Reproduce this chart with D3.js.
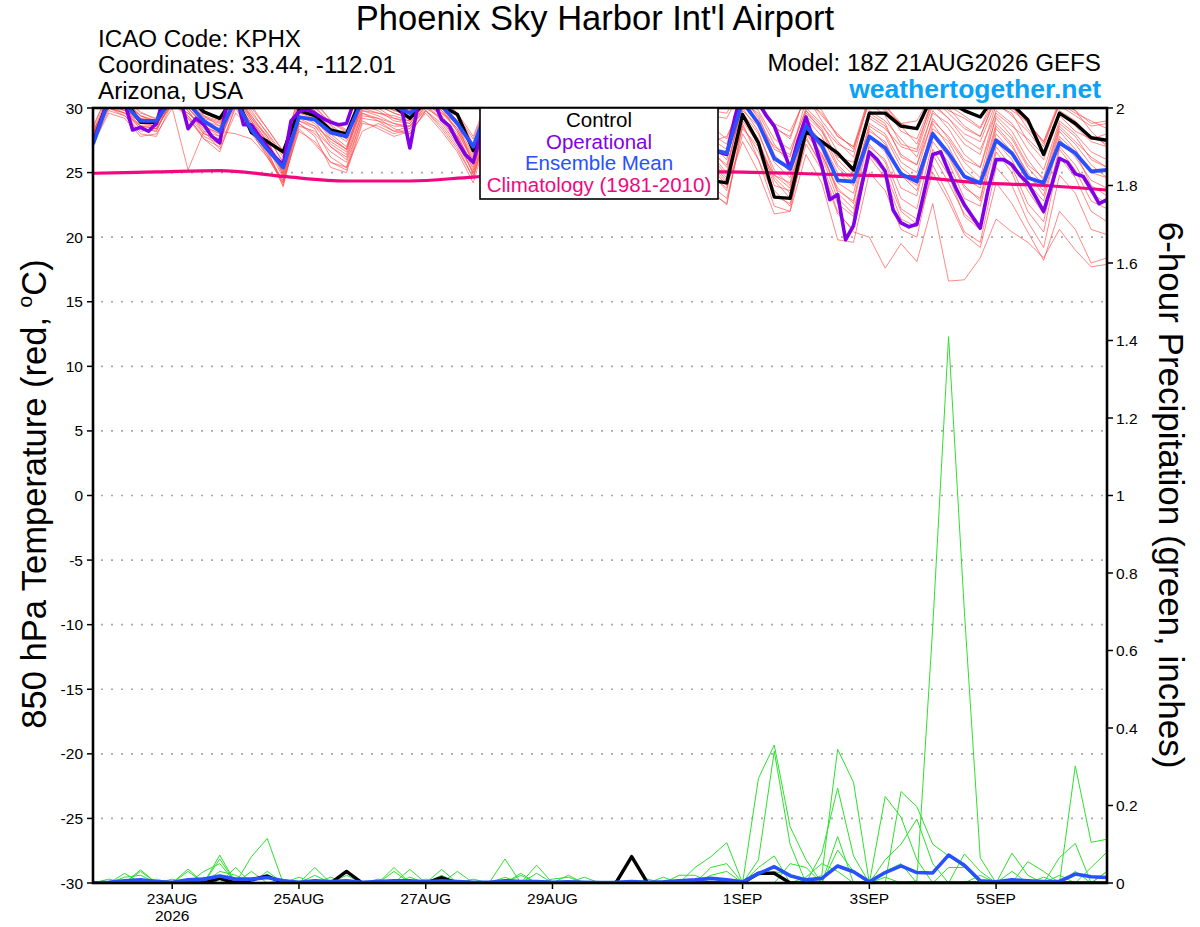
<!DOCTYPE html>
<html>
<head>
<meta charset="utf-8">
<script src="https://cdn.jsdelivr.net/npm/d3@7"></script>
<style>
  html, body { margin: 0; padding: 0; background: #fff; }
  svg { display: block; font-family: "Liberation Sans", Arial, Helvetica, sans-serif; }
</style>
</head>
<body>
<svg id="chart" width="1200" height="927"></svg>
<script>
// model run: 18Z 21AUG2026, 384h forecast
const runStart = Date.UTC(2026, 7, 21, 18);
const runEnd = Date.UTC(2026, 8, 6, 18);

const dateTicks = [Date.UTC(2026,7,23), Date.UTC(2026,7,25), Date.UTC(2026,7,27), Date.UTC(2026,7,29),
                   Date.UTC(2026,8,1), Date.UTC(2026,8,3), Date.UTC(2026,8,5)];
const dateLabels = ["23AUG", "25AUG", "27AUG", "29AUG", "1SEP", "3SEP", "5SEP"];
const tempTicks = [30, 25, 20, 15, 10, 5, 0, -5, -10, -15, -20, -25, -30];
const precipTicks = [2, 1.8, 1.6, 1.4, 1.2, 1, 0.8, 0.6, 0.4, 0.2, 0];
const legendNames = ["Control", "Operational", "Ensemble Mean", "Climatology (1981-2010)"];

// 850 hPa temperature, 6-hourly
const controlTemp = [27.3, 30.8,30.6,28.9,28.9, 31.2,30.8,29.7,29.2, 31.0,28.1,27.4,26.6, 29.8,29.4,28.3,28.0,
  31.0,30.8,30.1,29.2, 30.5,30.2,29.5,26.7, 29.6,30.2,28.8,27.2, 30.8,30.0,28.6,27.0, 30.6,29.6,28.0,26.4,
  29.4,27.8,24.4,24.2, 29.5,27.3,23.1,23.0, 28.2,27.4,26.5,25.2, 29.6,29.6,28.6,28.4, 31.0,30.5,29.8,29.3,
  31.0,30.3,29.1,26.4, 29.6,28.8,27.7,27.5];
const meanTemp = [27.2, 30.6,30.3,29.0,29.0, 30.8,30.4,29.0,28.2, 30.6,28.3,26.8,25.4, 29.3,29.1,28.1,27.8,
  30.6,30.4,30.2,29.6, 30.6,30.2,28.8,27.0, 30.4,30.0,28.6,26.8, 30.6,29.8,28.2,26.6, 30.4,29.4,27.8,26.2,
  30.0,28.6,26.8,26.5, 30.5,28.8,26.1,25.3, 28.6,27.1,24.4,24.3, 27.8,26.9,24.9,24.3, 28.0,26.5,24.7,24.2,
  27.5,26.5,24.6,24.2, 27.3,26.5,25.1,25.2];
// operational run comes 3-hourly
const operTemp = [27.3, 29.0,30.8,31.0,30.4, 28.3,28.5,28.2,28.8, 31.0,31.5,30.8,28.4, 29.2,28.7,27.8,27.3,
  30.8,31.2,28.7,28.7, 27.8,27.0,26.2,25.6, 29.0,29.7,29.9,29.6, 29.2,28.9,28.7,28.8,
  30.6,31.2,31.0,30.8, 30.6,30.4,29.8,26.9, 30.2,31.0,30.6,29.1, 28.6,27.4,26.4,25.8,
  28.0,29.6,30.2,29.8, 29.0,28.2,27.2,26.4, 29.4,30.6,30.2,29.4, 28.6,27.6,26.8,25.8,
  29.0,30.4,30.0,29.2, 28.4,27.4,26.4,25.6, 28.8,30.2,29.8,29.0, 27.8,26.8,26.6,26.4,
  29.2,31.5,31.2,30.4, 29.4,28.6,27.0,25.3, 27.5,29.3,27.4,25.5, 22.9,23.3,19.8,20.9,
  23.9,26.6,26.0,25.1, 22.1,21.1,20.8,21.0, 23.7,26.4,26.6,25.1, 23.7,22.5,21.6,20.7,
  23.7,26.0,26.0,25.6, 24.8,24.2,23.1,22.0, 24.0,26.1,25.8,24.9, 24.7,23.7,22.6,22.9];
// climatology, one value per day from run start
const climTemp = [24.95, 25.05, 25.15, 24.7, 24.35, 24.35, 24.65, 24.9, 25.0, 25.05, 25.05, 24.95, 24.8, 24.65, 24.2, 24.0, 23.65];

const memberTemp = [
  [27.9, 31.0,30.4,29.2,29.0, 31.6,30.6,29.3,28.9, 31.4,29.6,28.1,26.4, 30.6,30.0,28.9,28.1, 31.2,30.8,30.2,29.8, 31.4,30.2,29.4,27.6, 30.8,30.6,29.6,28.2, 31.2,30.8,29.4,28.0, 31.4,30.6,29.2,27.6, 30.8,29.6,28.0,27.2, 31.2,30.4,28.8,28.2, 30.8,29.4,28.0,26.8, 30.6,29.8,28.8,28.4, 31.0,30.0,28.6,27.8, 30.8,29.8,28.9,27.4, 30.2,29.4,28.6,28.8],
  [28.4, 31.4,30.8,29.6,29.2, 31.8,30.9,29.6,29.1, 31.8,30.0,28.4,26.7, 31.0,30.4,29.1,28.3, 30.6,30.2,29.6,29.2, 31.0,30.4,29.0,26.8, 30.2,30.8,29.0,27.8, 31.0,30.2,28.6,27.6, 30.8,30.0,28.8,27.2, 30.4,29.8,29.4,29.2, 31.6,30.2,28.4,27.8, 31.0,29.0,27.4,26.2, 30.8,30.0,28.2,27.6, 30.6,30.2,29.4,28.5, 31.2,30.2,28.4,27.0, 30.4,29.6,29.0,28.4],
  [27.6, 30.6,30.0,28.8,28.6, 31.0,30.2,28.8,28.4, 31.0,29.2,27.8,25.8, 30.2,29.8,28.4,27.6, 31.0,30.6,29.8,29.4, 31.2,30.6,29.6,27.2, 30.4,29.8,28.4,26.6, 30.6,30.0,29.0,27.8, 31.0,30.2,28.6,27.0, 31.0,30.0,27.2,26.0, 30.8,29.8,27.6,26.8, 29.8,28.6,27.2,26.6, 31.0,30.2,28.6,27.2, 30.4,29.2,28.0,27.4, 30.4,29.4,28.2,26.6, 29.8,29.0,27.8,27.2],
  [28.1, 30.2,29.6,28.4,28.2, 30.8,29.8,28.2,27.8, 30.6,28.8,27.2,25.2, 29.6,29.4,28.0,27.0, 30.4,30.0,29.2,28.8, 30.6,29.8,28.4,26.0, 29.8,30.2,28.8,27.4, 31.2,30.4,28.8,27.2, 30.4,29.8,28.0,26.4, 29.6,28.8,27.4,27.8, 30.4,29.6,27.2,25.6, 29.4,28.2,26.2,25.8, 29.8,29.0,27.6,26.2, 29.6,28.8,27.2,26.4, 30.2,29.6,27.4,26.0, 29.4,28.2,27.6,28.0],
  [27.4, 30.8,30.6,29.4,28.8, 31.2,30.4,29.0,28.6, 30.8,29.4,27.6,24.8, 30.8,30.2,28.7,27.8, 30.8,30.4,30.0,29.6, 30.8,29.6,28.8,25.6, 29.6,29.4,28.2,26.2, 30.4,29.8,28.2,26.6, 30.6,30.4,29.4,27.8, 31.2,30.4,28.6,27.6, 31.0,29.2,26.8,26.2, 30.6,29.6,27.8,27.0, 30.4,29.4,27.2,26.8, 30.8,29.6,28.4,27.8, 31.0,30.4,28.8,27.4, 30.6,29.8,28.2,27.0],
  [28.6, 31.2,30.8,29.7,29.1, 31.4,31.0,29.4,29.0, 32.0,30.2,28.4,26.6, 31.0,30.6,29.0,28.2, 31.0,30.8,30.4,30.2, 31.6,30.8,29.6,27.8, 31.0,30.6,29.4,28.4, 31.4,31.0,29.8,28.4, 31.2,31.0,29.4,28.0, 31.0,30.2,29.8,29.6, 31.8,30.6,28.6,27.6, 31.2,29.8,27.8,27.0, 31.0,30.2,28.8,29.0, 31.2,29.8,29.2,28.4, 30.8,30.0,29.0,27.2, 30.4,29.8,28.8,29.0],
  [27.8, 30.4,29.8,28.6,28.4, 30.6,29.4,28.0,27.6, 30.2,28.6,27.0,24.6, 29.4,28.8,27.4,26.6, 30.2,29.8,29.0,28.8, 30.4,29.4,28.0,25.2, 29.4,29.8,28.0,26.0, 30.2,29.6,27.8,25.8, 30.0,29.2,27.4,25.6, 29.8,28.6,26.8,25.4, 30.2,28.8,25.8,24.6, 29.2,27.8,25.4,24.2, 28.8,28.0,25.8,25.0, 29.2,27.6,25.8,24.6, 29.4,28.2,26.0,24.4, 28.6,27.4,26.2,25.4],
  [27.3, 29.8,29.4,28.2,28.4, 30.4,29.2,27.8,27.2, 31.0,29.0,27.4,25.0, 28.6,28.2,27.0,26.2, 29.6,29.0,28.6,28.6, 30.2,29.0,27.4,25.4, 29.2,29.0,27.6,25.8, 29.8,29.2,27.4,25.4, 29.6,29.0,27.2,25.2, 29.4,28.2,25.6,24.2, 29.6,28.0,25.2,24.0, 28.6,27.0,24.2,23.4, 28.2,27.4,24.8,24.0, 28.8,27.0,24.6,23.8, 28.6,27.2,24.8,23.6, 28.2,26.8,25.0,24.6],
  [28.0, 30.0,29.6,29.0,28.8, 30.2,29.6,28.6,28.0, 30.4,28.2,26.6,24.2, 29.8,29.6,28.2,27.4, 29.8,29.4,28.8,28.4, 30.0,29.2,27.8,24.8, 28.6,28.8,27.2,25.4, 29.6,28.8,27.0,25.0, 29.4,28.4,26.4,24.8, 28.6,27.6,25.0,23.6, 29.0,27.2,24.4,23.0, 28.4,26.4,23.8,22.6, 27.8,26.6,23.8,23.2, 28.2,26.4,24.0,22.8, 28.0,26.6,24.2,22.8, 27.6,26.2,24.4,23.8],
  [27.5, 30.6,30.2,28.9,28.6, 31.0,29.2,27.6,27.0, 30.0,28.0,26.4,24.0, 29.2,28.6,27.6,26.8, 30.0,29.6,29.4,29.0, 30.6,29.8,28.2,25.8, 30.0,29.6,28.6,26.8, 30.4,29.4,27.6,26.0, 29.8,29.4,27.8,26.2, 30.4,29.0,26.4,25.0, 30.6,29.4,26.4,25.0, 29.6,28.4,26.0,24.8, 29.4,28.6,26.4,25.6, 29.8,28.4,26.4,25.4, 29.8,28.8,26.8,25.2, 29.0,28.0,26.6,26.0],
  [27.2, 29.6,29.2,27.8,28.0, 30.0,25.2,28.2,26.8, 29.6,28.4,26.8,25.4, 28.8,28.0,26.6,25.8, 29.2,29.0,28.2,28.0, 29.8,28.6,27.0,24.6, 28.8,28.6,27.4,25.6, 29.4,28.6,26.8,25.2, 29.2,28.8,26.8,25.0, 29.0,27.8,24.8,23.8, 29.4,27.6,24.0,23.6, 28.0,26.4,23.6,22.8, 28.4,27.2,24.8,23.6, 27.8,26.2,23.8,23.0, 28.4,27.0,25.0,23.2, 27.8,26.6,24.0,23.2],
  [28.2, 30.2,29.8,29.2,28.8, 30.6,30.0,28.8,28.2, 28.0,27.6,26.2,24.4, 28.2,27.4,25.8,25.2, 29.0,28.4,27.8,28.2, 29.6,28.2,26.6,24.2, 28.4,28.2,26.8,25.0, 29.0,28.4,26.4,24.8, 28.8,28.2,26.2,24.6, 28.4,27.2,23.6,22.5, 28.6,26.6,23.6,22.4, 27.6,25.6,22.6,21.6, 27.0,26.0,23.0,22.2, 27.4,25.8,23.0,22.4, 27.4,26.0,23.6,21.8, 27.0,25.6,23.4,22.6],
  [28.3, 30.4,30.4,29.4,29.0, 31.2,30.2,29.2,28.8, 31.2,29.4,27.8,25.8, 30.0,29.2,27.8,26.8, 30.4,30.2,29.6,29.2, 31.0,30.0,28.6,26.4, 29.6,29.4,27.8,25.6, 29.8,29.2,27.2,25.6, 30.2,29.6,28.2,26.6, 30.0,29.0,26.2,24.8, 29.8,28.6,27.0,26.4, 30.0,28.8,26.6,25.4, 29.2,28.4,27.0,26.6, 30.2,29.2,27.6,26.8, 29.6,28.6,27.6,26.4, 29.6,28.6,27.4,27.0],
  [27.7, 30.0,29.4,28.0,27.8, 30.4,29.6,28.4,27.4, 30.6,28.8,27.2,24.8, 29.0,28.4,26.2,25.4, 29.4,29.2,28.4,28.0, 29.8,28.8,27.2,25.0, 29.0,29.2,27.8,26.4, 30.0,29.4,28.0,26.4, 29.6,29.0,27.0,25.4, 29.2,28.4,26.0,24.6, 28.4,27.0,24.8,24.2, 28.8,27.4,25.0,24.0, 28.6,27.8,25.4,24.4, 28.4,27.4,25.2,24.2, 28.8,27.6,25.4,24.0, 28.4,27.2,25.6,24.6],
  [27.6, 30.2,29.8,28.4,28.2, 30.8,29.8,28.0,27.6, 30.8,28.6,26.8,23.9, 28.8,27.8,25.4,25.0, 28.8,28.6,28.0,28.4, 30.2,29.2,27.4,25.0, 28.8,28.4,26.8,24.8, 29.2,28.6,26.6,24.6, 29.0,28.4,26.0,24.4, 28.8,27.4,24.0,23.0, 28.0,26.0,23.2,22.6, 27.2,25.2,21.8,20.6, 26.4,25.0,22.0,21.0, 26.8,24.8,21.6,20.6, 26.6,25.0,22.0,20.4, 26.2,24.6,22.0,21.2],
  [27.9, 30.6,30.0,28.6,28.4, 30.4,29.4,27.6,26.6, 30.2,28.2,26.2,24.2, 28.4,27.2,25.8,25.4, 28.2,28.8,28.2,28.6, 29.8,28.4,26.8,24.6, 28.6,28.8,27.2,25.2, 29.4,28.8,27.0,25.0, 29.4,28.6,26.6,25.0, 29.4,28.0,25.4,24.0, 27.4,25.0,21.8,22.0, 26.4,24.2,19.8,19.6, 25.0,23.6,20.6,20.0, 25.6,23.2,20.4,19.6, 25.4,24.0,21.2,19.2, 24.8,23.4,20.6,20.2],
  [27.5, 30.0,29.6,28.6,28.6, 30.8,30.0,28.6,28.0, 30.4,28.4,26.4,24.4, 29.0,28.6,27.0,26.0, 29.6,29.2,28.8,28.6, 30.4,29.4,27.8,25.6, 29.2,29.0,27.4,25.4, 29.8,29.0,27.2,25.8, 29.8,29.2,27.4,25.8, 29.6,28.2,25.8,24.4, 29.2,27.4,24.6,23.4, 27.8,25.4,22.0,20.4, 20.0,17.6,19.5,18.1, 22.6,16.6,16.7,18.4, 21.4,20.4,19.6,18.4, 20.6,19.0,17.7,17.9],
  [28.0, 30.8,30.2,29.0,28.8, 31.0,30.6,29.0,28.4, 31.2,29.2,27.4,25.4, 29.6,29.2,27.6,26.8, 30.6,30.4,29.8,29.6, 31.2,30.0,28.2,25.8, 30.0,29.6,28.0,26.0, 30.2,29.8,28.0,26.2, 30.4,29.8,27.8,26.0, 30.2,29.4,26.6,25.6, 30.0,28.2,24.8,23.8, 28.4,26.8,23.4,22.2, 26.2,24.6,21.4,20.8, 25.0,22.8,20.2,19.2, 24.2,22.6,20.4,18.2, 22.0,20.6,18.0,18.4],
  [27.7, 30.4,30.0,29.0,28.8, 30.6,30.0,28.6,27.8, 30.8,29.0,27.2,25.0, 29.4,29.0,27.2,26.4, 29.8,29.6,29.2,29.0, 30.8,29.6,28.4,26.2, 29.4,29.2,27.6,25.8, 29.6,29.0,27.4,25.6, 30.0,29.6,27.6,25.8, 29.6,28.8,23.4,22.6, 28.8,26.0,22.4,22.0, 28.2,26.2,23.0,21.8, 27.2,25.8,22.2,21.4, 26.4,24.2,21.8,20.8, 27.0,25.4,22.6,21.2, 26.8,25.2,22.8,22.2],
  [28.1, 31.2,30.6,29.4,29.0, 31.4,30.8,29.4,28.6, 31.6,29.8,28.0,26.2, 30.2,29.8,28.6,27.6, 30.8,30.6,30.2,29.8, 31.4,30.4,29.0,26.6, 30.6,30.0,28.6,27.0, 30.8,30.2,28.4,27.0, 30.8,30.0,28.2,26.8, 30.6,29.6,27.6,26.8, 30.4,29.0,26.2,25.2, 29.8,28.2,25.6,24.4, 29.6,28.8,26.2,25.6, 29.0,27.8,26.0,25.4, 29.2,27.8,25.6,24.6, 28.8,27.8,26.0,25.4]
];

// 6-hour precipitation (inches)
const controlPrecip = [0,0,0,0,0,0,0,0,0.012,0, 0.008,0.018,0,0,0,0,0.03,0,0,0, 0,0,0.014,0,0,0,0,0,0,0,
  0,0,0,0,0.068,0,0,0,0,0, 0,0,0.025,0.025,0,0,0,0,0,0, 0,0,0,0,0,0,0,0,0,0, 0,0,0,0,0];
const meanPrecip = [0,0.002,0.006,0.008,0.004,0.002,0.008,0.01,0.018,0.01, 0.01,0.014,0.006,0.002,0.006,0.004,0.006,0.002,0.004,0.006,
  0.006,0.003,0.006,0.004,0.002,0.002,0.006,0.004,0.004,0.002, 0.003,0.002,0.001,0.002,0.004,0.002,0.003,0.006,0.008,0.012,
  0.008,0.003,0.024,0.042,0.019,0.008,0.012,0.044,0.029,0.003, 0.027,0.044,0.027,0.026,0.072,0.046,0.006,0.003,0.008,0.006,
  0.004,0.004,0.023,0.016,0.014];
const memberPrecip = [
  [0,0,0,0.034,0,0,0,0,0.072,0, 0,0,0,0,0,0,0,0,0,0.04, 0,0,0,0,0,0,0,0,0,0, 0,0,0,0,0,0,0,0,0,0, 0,0,0.27,0.356,0.145,0.06,0,0,0,0, 0,0,0,0,0,0,0,0,0,0, 0,0,0.302,0.105,0.113],
  [0,0,0.025,0,0,0,0,0,0.062,0, 0.068,0.115,0,0,0,0,0,0,0,0, 0,0,0,0,0,0,0,0,0.046,0, 0,0,0,0,0,0,0,0,0,0, 0,0,0,0,0,0,0.02,0.345,0.26,0, 0,0,0,0,0,0,0,0,0,0, 0,0,0,0.04,0.08],
  [0,0,0,0,0,0,0.036,0,0,0, 0.03,0,0,0,0,0,0,0,0,0, 0,0,0,0,0,0,0.062,0,0,0, 0,0,0,0,0,0,0,0,0,0, 0,0,0.06,0.34,0.1,0,0,0,0,0, 0,0,0.005,0.66,1.41,0.7,0.065,0,0,0, 0,0,0,0,0],
  [0,0,0,0.03,0,0,0,0,0,0.04, 0,0,0,0,0.04,0,0,0,0,0, 0,0,0.035,0,0,0,0,0,0,0, 0,0,0,0,0,0,0,0,0.04,0.068, 0.104,0,0,0,0,0,0.077,0.245,0.07,0, 0,0,0,0,0,0,0,0,0,0, 0,0.066,0.102,0,0],
  [0,0,0,0,0,0,0,0.03,0.05,0, 0,0,0,0,0,0,0,0,0,0, 0.035,0,0,0,0,0,0,0,0,0, 0,0,0,0,0,0,0,0,0,0, 0,0,0,0,0,0,0,0,0,0, 0.223,0.17,0.06,0,0,0,0,0,0.077,0.02, 0,0,0,0,0],
  [0,0,0,0,0,0,0.03,0,0,0, 0,0.03,0,0,0,0,0,0,0,0.03, 0,0,0,0,0,0,0,0.025,0,0, 0,0,0,0,0,0,0,0,0,0, 0,0,0,0,0,0,0,0,0,0, 0,0.236,0.197,0.1,0.07,0.04,0,0,0,0, 0,0,0,0,0.03],
  [0,0,0.015,0.02,0,0,0,0,0,0, 0,0,0,0,0.02,0,0,0,0,0, 0,0,0,0,0,0,0,0,0.025,0, 0,0,0,0,0,0,0,0,0,0, 0,0,0,0,0.05,0.04,0,0.12,0,0, 0.06,0.1,0.165,0.05,0,0,0,0,0,0.055, 0.03,0,0,0,0],
  [0,0,0,0,0,0,0,0,0.03,0.02, 0,0,0,0,0,0,0,0,0,0, 0,0,0,0.03,0,0,0,0,0,0, 0.02,0,0,0,0,0,0,0,0,0.04, 0.05,0,0.04,0.07,0,0,0,0,0,0, 0,0,0,0,0,0.075,0.03,0,0,0, 0,0.02,0,0,0],
  [0,0.01,0,0,0,0,0,0.015,0,0, 0,0,0,0,0,0,0.02,0,0,0, 0,0,0.02,0,0,0,0,0,0,0, 0,0,0,0,0,0,0,0.02,0.02,0, 0,0,0,0,0,0,0,0.085,0.03,0, 0,0,0,0,0.04,0.04,0,0,0,0, 0,0,0.03,0,0],
  [0,0,0,0,0.01,0,0,0,0,0, 0,0,0.01,0,0,0,0,0,0,0, 0.015,0,0,0,0,0,0.015,0,0,0, 0,0,0,0,0,0,0,0,0,0.02, 0.03,0,0.02,0.03,0.02,0,0,0,0,0, 0.03,0.05,0,0,0,0,0,0,0.03,0, 0,0,0,0,0],
  [0,0,0,0,0,0.01,0,0,0,0, 0,0,0,0.015,0,0,0,0,0,0, 0,0.01,0,0,0,0,0,0.02,0,0, 0,0.015,0,0,0,0,0.015,0,0,0, 0,0,0,0,0,0.015,0.05,0.03,0,0, 0.015,0,0,0,0,0,0.02,0,0,0, 0.015,0,0,0,0.03],
  [0,0,0,0,0,0,0,0,0,0.01, 0,0,0,0,0,0.015,0,0,0.01,0, 0,0,0,0,0.01,0,0,0,0,0.01, 0.015,0,0,0.005,0,0.01,0,0,0,0, 0,0,0,0,0,0,0,0,0,0, 0,0,0,0,0,0,0,0,0,0, 0,0,0,0,0]
];

const plot = { left: 93, right: 1107, top: 108, bottom: 883 };
const HOUR = 3600e3;
const colors = { member: "#ff4a4a", green: "#2ee02e", control: "#000000", oper: "#8200e6", mean: "#2850ff", clim: "#f2077f" };

const svg = d3.select("#chart");

const x = d3.scaleUtc()
    .domain([new Date(runStart), new Date(runEnd)])
    .range([plot.left, plot.right]);
const yT = d3.scaleLinear().domain([-30, 30]).range([plot.bottom, plot.top]);
const yP = d3.scaleLinear().domain([0, 2]).range([plot.bottom, plot.top]);

function stepLine(yscale, hours) {
    return d3.line()
        .x((d, i) => x(new Date(runStart + i * hours * HOUR)))
        .y(d => yscale(d));
}

svg.append("defs").append("clipPath").attr("id", "plot-clip")
    .append("rect")
    .attr("x", plot.left).attr("y", plot.top)
    .attr("width", plot.right - plot.left).attr("height", plot.bottom - plot.top);

// dotted grid
svg.append("g")
    .selectAll("line")
    .data(tempTicks.filter(t => t > -30 && t < 30))
    .join("line")
    .attr("x1", plot.left + 8).attr("x2", plot.right)
    .attr("y1", d => yT(d)).attr("y2", d => yT(d))
    .attr("stroke", "#a8a8a8")
    .attr("stroke-width", 1.6)
    .attr("stroke-dasharray", "2,8");

const lines = svg.append("g").attr("clip-path", "url(#plot-clip)");

lines.append("g")
    .attr("fill", "none")
    .attr("stroke", colors.member)
    .attr("stroke-opacity", 0.65)
    .attr("stroke-width", 1)
    .selectAll("path")
    .data(memberTemp)
    .join("path")
    .attr("d", stepLine(yT, 6));

lines.append("g")
    .attr("fill", "none")
    .attr("stroke", colors.green)
    .attr("stroke-width", 1)
    .selectAll("path")
    .data(memberPrecip)
    .join("path")
    .attr("d", stepLine(yP, 6));

lines.append("path")
    .datum(climTemp)
    .attr("fill", "none")
    .attr("stroke", colors.clim)
    .attr("stroke-width", 3.2)
    .attr("d", stepLine(yT, 24).curve(d3.curveMonotoneX));

lines.append("path").datum(controlPrecip)
    .attr("fill", "none").attr("stroke", colors.control).attr("stroke-width", 3.4)
    .attr("stroke-linejoin", "round")
    .attr("d", stepLine(yP, 6));
lines.append("path").datum(meanPrecip)
    .attr("fill", "none").attr("stroke", colors.mean).attr("stroke-width", 3.6)
    .attr("stroke-linejoin", "round")
    .attr("d", stepLine(yP, 6));

lines.append("path").datum(controlTemp)
    .attr("fill", "none").attr("stroke", colors.control).attr("stroke-width", 3.4)
    .attr("stroke-linejoin", "round")
    .attr("d", stepLine(yT, 6));
lines.append("path").datum(operTemp)
    .attr("fill", "none").attr("stroke", colors.oper).attr("stroke-width", 3.6)
    .attr("stroke-linejoin", "round")
    .attr("d", stepLine(yT, 3));
lines.append("path").datum(meanTemp)
    .attr("fill", "none").attr("stroke", colors.mean).attr("stroke-width", 3.8)
    .attr("stroke-linejoin", "round")
    .attr("d", stepLine(yT, 6));

// frame
svg.append("rect")
    .attr("x", plot.left).attr("y", plot.top)
    .attr("width", plot.right - plot.left).attr("height", plot.bottom - plot.top)
    .attr("fill", "none").attr("stroke", "#000").attr("stroke-width", 2.6);

// left axis
const leftAxis = svg.append("g").attr("font-size", 15.5);
leftAxis.selectAll("line").data(tempTicks).join("line")
    .attr("x1", plot.left - 6).attr("x2", plot.left)
    .attr("y1", d => yT(d)).attr("y2", d => yT(d))
    .attr("stroke", "#000").attr("stroke-width", 1.5);
leftAxis.selectAll("text").data(tempTicks).join("text")
    .attr("x", plot.left - 10).attr("y", d => yT(d)).attr("dy", "0.36em")
    .attr("text-anchor", "end")
    .text(d => d);

// right axis
const rightAxis = svg.append("g").attr("font-size", 15.5);
rightAxis.selectAll("line").data(precipTicks).join("line")
    .attr("x1", plot.right).attr("x2", plot.right + 6)
    .attr("y1", d => yP(d)).attr("y2", d => yP(d))
    .attr("stroke", "#000").attr("stroke-width", 1.5);
rightAxis.selectAll("text").data(precipTicks).join("text")
    .attr("x", plot.right + 9).attr("y", d => yP(d)).attr("dy", "0.36em")
    .text(d => d);

// bottom axis
const bottomAxis = svg.append("g").attr("font-size", 15.5).attr("text-anchor", "middle");
bottomAxis.selectAll("line").data(dateTicks).join("line")
    .attr("x1", d => x(new Date(d))).attr("x2", d => x(new Date(d)))
    .attr("y1", plot.bottom).attr("y2", plot.bottom + 6)
    .attr("stroke", "#000").attr("stroke-width", 1.5);
bottomAxis.selectAll("text.date").data(dateTicks).join("text")
    .attr("class", "date")
    .attr("x", d => x(new Date(d))).attr("y", 904)
    .text((d, i) => dateLabels[i]);
bottomAxis.append("text")
    .attr("x", x(new Date(dateTicks[0]))).attr("y", 921)
    .text("2026");

// axis titles
const leftTitle = svg.append("text")
    .attr("transform", "translate(46,494) rotate(-90)")
    .attr("text-anchor", "middle")
    .attr("font-size", 34.5)
    .text("850 hPa Temperature (red, ");
leftTitle.append("tspan").attr("font-size", 21).attr("dy", -14).text("o");
leftTitle.append("tspan").attr("dy", 14).text("C)");

svg.append("text")
    .attr("transform", "translate(1159,495) rotate(90)")
    .attr("text-anchor", "middle")
    .attr("font-size", 35)
    .text("6-hour Precipitation (green, inches)");

// header
svg.append("text").attr("x", 595).attr("y", 30).attr("text-anchor", "middle")
    .attr("font-size", 34.5).text("Phoenix Sky Harbor Int'l Airport");
const info = ["ICAO Code: KPHX", "Coordinates: 33.44, -112.01", "Arizona, USA"];
svg.append("g").attr("font-size", 24.2)
    .selectAll("text").data(info).join("text")
    .attr("x", 98).attr("y", (d, i) => 47 + i * 26)
    .text(d => d);
svg.append("text").attr("x", 1101).attr("y", 71).attr("text-anchor", "end")
    .attr("font-size", 24.2).text("Model: 18Z 21AUG2026 GEFS");
svg.append("text").attr("x", 1101).attr("y", 98).attr("text-anchor", "end")
    .attr("font-size", 26.5).attr("font-weight", "bold").attr("fill", "#0aa2f7")
    .text("weathertogether.net");

// legend
const legend = svg.append("g");
legend.append("rect")
    .attr("x", 480).attr("y", plot.top).attr("width", 238).attr("height", 91)
    .attr("fill", "#fff").attr("stroke", "#000").attr("stroke-width", 1.6);
const legendColors = [colors.control, colors.oper, colors.mean, colors.clim];
legend.selectAll("text").data(legendNames).join("text")
    .attr("x", 599).attr("y", (d, i) => 127 + i * 21.5)
    .attr("text-anchor", "middle")
    .attr("font-size", 20.5)
    .attr("fill", (d, i) => legendColors[i])
    .text(d => d);
</script>
</body>
</html>
